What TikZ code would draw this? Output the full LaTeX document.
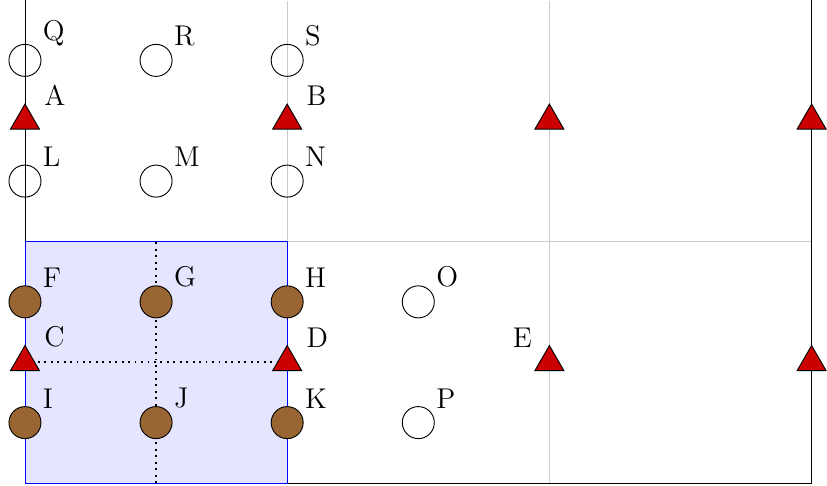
\documentclass[tikz,border=0pt]{standalone}
\usetikzlibrary{shapes.geometric,backgrounds}
\begin{document}
\begin{tikzpicture}[x=1cm,y=0.921cm,
  labtext/.style={font=\fontsize{12.4pt}{15pt}\selectfont,inner sep=0pt,anchor=south west},
  labtextl/.style={font=\fontsize{12.4pt}{15pt}\selectfont,inner sep=0pt,anchor=south east},
  emptycirc/.style={circle,draw,minimum size=13.9pt,inner sep=0pt},
  fullcirc/.style={circle,draw,fill=brown!80!black,minimum size=13.9pt,inner sep=0pt},
  tri/.style={regular polygon,regular polygon sides=3,draw,fill=red!80!black,minimum size=14.5pt,inner sep=0pt},
  gridline/.style={black!20},
  axisline/.style={black},
  region/.style={draw=blue,fill=blue!10},
  dotline/.style={thick,dotted}]
\useasboundingbox (-0.381,-0.05) rectangle (12.235,8);
% nodes
\node[emptycirc] (Q) at (0,7) {};
\node[emptycirc] (R) at (2,7) {};
\node[emptycirc] (S) at (4,7) {};
\node[tri] (A) at (0,6) {};
\node[tri] (B) at (4,6) {};
\node[tri] (T1) at (8,6) {};
\node[tri] (T2) at (12,6) {};
\node[emptycirc] (L) at (0,5) {};
\node[emptycirc] (M) at (2,5) {};
\node[emptycirc] (N) at (4,5) {};
\node[fullcirc] (F) at (0,3) {};
\node[fullcirc] (G) at (2,3) {};
\node[fullcirc] (H) at (4,3) {};
\node[emptycirc] (O) at (6,3) {};
\node[tri] (C) at (0,2) {};
\node[tri] (D) at (4,2) {};
\node[tri] (E) at (8,2) {};
\node[tri] (T3) at (12,2) {};
\node[fullcirc] (I) at (0,1) {};
\node[fullcirc] (J) at (2,1) {};
\node[fullcirc] (K) at (4,1) {};
\node[emptycirc] (P) at (6,1) {};
% labels
\foreach \n in {Q,R,S,L,M,N,F,G,H,O,I,J,K,P}
  \node[labtext] (\n lab) at ([shift={(7.6pt,6.1pt)}]\n.center) {\n};
\foreach \n in {A,B,C,D}
  \node[labtext] (\n lab) at ([shift={(8.2pt,6.3pt)}]\n.center) {\n};
\node[labtextl] (Elab) at ([shift={(-7.4pt,6.1pt)}]E.center) {E};
\coordinate (o) at (0,0);
\coordinate (ot) at (0,8);
\coordinate (rb) at (12,0);
\coordinate (rt) at (12,8);
\coordinate (vb) at (2,0);
\coordinate (vt) at (2,4);
\begin{scope}[on background layer]
  \draw[gridline] (0,0) grid[step=4] (12,7.99);
  \draw[axisline] (ot) -- (o) -- (rb) -- (rt);
  \draw[region] (0,0) rectangle (4,4);
  \draw[dotline] (C.center) -- (D.center);
  \draw[dotline] (vb) -- (vt);
\end{scope}
\end{tikzpicture}
\end{document}
